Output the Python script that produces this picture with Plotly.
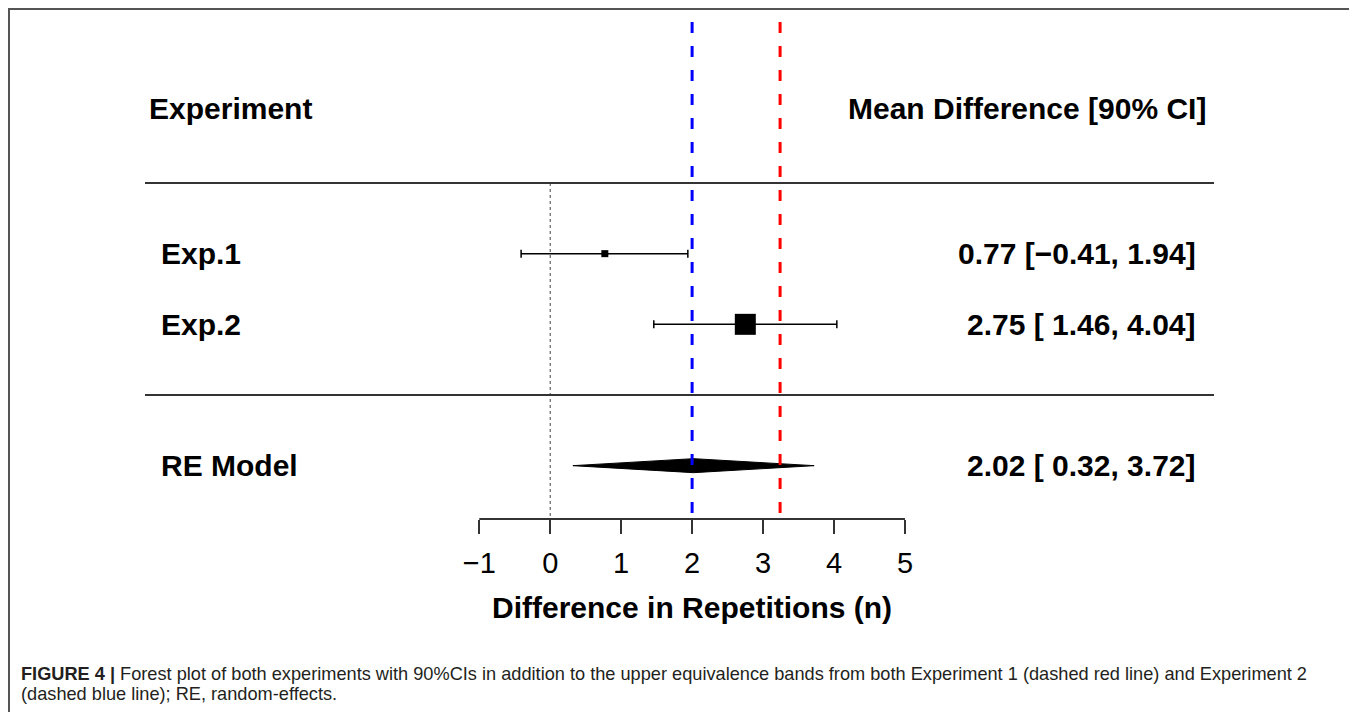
import plotly.graph_objects as go

# ---- data ----
studies = ["Exp.1", "Exp.2"]
estimates = [0.77, 2.75]
ci_lower = [-0.41, 1.46]
ci_upper = [1.94, 4.04]
marker_sizes = [7, 21]
re_label = "RE Model"
re_estimate = 2.02
re_lower = 0.32
re_upper = 3.72
equiv_exp1 = 3.24   # red dashed
equiv_exp2 = 2.00   # blue dashed
tick_vals = [-1, 0, 1, 2, 3, 4, 5]
x_title = "Difference in Repetitions (n)"
left_header = "Experiment"
right_header = "Mean Difference [90% CI]"
caption_line1 = ("<b>FIGURE 4 |</b> Forest plot of both experiments with 90%CIs in addition to the upper "
                 "equivalence bands from both Experiment 1 (dashed red line) and Experiment 2")
caption_line2 = "(dashed blue line); RE, random-effects."

W, H = 1357, 712
OFF = 8          # page body margin offset
AXIS_PX = 519    # page pixel of the axis line
BOTTOM = H - (AXIS_PX - OFF)
FONT = "Liberation Sans, Arial, sans-serif"

# pixel mapping (page pixels -> figure pixels via OFF)
px_per_x = 70.95
x0_px = 550.2 - OFF
x_range = [-x0_px / px_per_x, (W - x0_px) / px_per_x]
px_per_y = 70.67
y0_px = 395.0 - OFF
plot_h = H - BOTTOM
y_range = [(y0_px - plot_h) / px_per_y, y0_px / px_per_y]


def xd(px):
    return (px - OFF - x0_px) / px_per_x


def yd(px):
    return (y0_px - (px - OFF)) / px_per_y


def ypaper(px):
    return (plot_h - (px - OFF)) / plot_h


rows = [2, 1]
re_row = -1

fig = go.Figure()

# study estimates with CIs
fig.add_trace(go.Scatter(
    x=estimates, y=rows, mode="markers",
    marker=dict(symbol="square", size=marker_sizes, color="black", opacity=1, line=dict(width=0)),
    error_x=dict(type="data", symmetric=False,
                 array=[u - e for u, e in zip(ci_upper, estimates)],
                 arrayminus=[e - l for e, l in zip(estimates, ci_lower)],
                 color="black", thickness=1.5, width=4),
    showlegend=False, hoverinfo="skip", cliponaxis=False,
))

# RE diamond
dh = 7 / px_per_y
fig.add_trace(go.Scatter(
    x=[re_lower, re_estimate, re_upper, re_estimate, re_lower],
    y=[re_row, re_row + dh, re_row, re_row - dh, re_row],
    mode="lines", fill="toself", fillcolor="black",
    line=dict(color="black", width=1), showlegend=False, hoverinfo="skip",
))

shapes = []
# zero dotted line
shapes.append(dict(type="line", xref="x", yref="y", x0=0, x1=0, y0=3, y1=y_range[0],
                   line=dict(color="#444", width=1, dash="dot"), layer="below"))
# horizontal separators
for yy in [3, 0]:
    shapes.append(dict(type="line", xref="x", yref="y", x0=xd(145), x1=xd(1214), y0=yy, y1=yy,
                       line=dict(color="#333", width=2)))
# axis baseline
shapes.append(dict(type="line", xref="x", yref="paper", x0=tick_vals[0], x1=tick_vals[-1], y0=0, y1=0,
                   line=dict(color="#333", width=2)))
# equivalence bands
for xv, col in [(equiv_exp2, "#0000ff"), (equiv_exp1, "#ff0000")]:
    shapes.append(dict(type="line", xref="x", yref="y", x0=xv, x1=xv, y0=yd(22), y1=y_range[0],
                       line=dict(color=col, width=3, dash="11px,13px")))
# frame
shapes.append(dict(type="rect", xref="paper", yref="paper", x0=(9 - OFF) / W, x1=(1355 - OFF) / W,
                   y0=ypaper(800), y1=ypaper(9), line=dict(color="#555", width=2)))

annotations = []
bold = dict(family=FONT, size=30, color="black")
annotations.append(dict(x=xd(147), y=yd(108), xref="x", yref="y", text=f"<b>{left_header}</b>",
                        xanchor="left", yanchor="middle", showarrow=False, font=bold))
annotations.append(dict(x=xd(1208), y=yd(108), xref="x", yref="y", text=f"<b>{right_header}</b>",
                        xanchor="right", yanchor="middle", showarrow=False, font=bold))


def fmt(e, l, u):
    s = f"{e:.2f} [{l:5.2f}, {u:.2f}]"
    return s.replace("-", "\u2212")


for name, r, e, l, u in zip(studies, rows, estimates, ci_lower, ci_upper):
    annotations.append(dict(x=xd(159), y=r, xref="x", yref="y", text=f"<b>{name}</b>",
                            xanchor="left", yanchor="middle", showarrow=False, font=bold))
    annotations.append(dict(x=xd(1198), y=r, xref="x", yref="y", text=f"<b>{fmt(e, l, u)}</b>",
                            xanchor="right", yanchor="middle", showarrow=False, font=bold))
annotations.append(dict(x=xd(159), y=re_row, xref="x", yref="y", text=f"<b>{re_label}</b>",
                        xanchor="left", yanchor="middle", showarrow=False, font=bold))
annotations.append(dict(x=xd(1198), y=re_row, xref="x", yref="y",
                        text=f"<b>{fmt(re_estimate, re_lower, re_upper)}</b>",
                        xanchor="right", yanchor="middle", showarrow=False, font=bold))
# axis title
annotations.append(dict(x=2, y=ypaper(607), xref="x", yref="paper", text=f"<b>{x_title}</b>",
                        xanchor="center", yanchor="middle", showarrow=False, font=bold))
# caption
cap_font = dict(family=FONT, size=18.2, color="#231f20")
for txt, ypx in [(caption_line1, 674), (caption_line2, 694)]:
    annotations.append(dict(x=(19 - OFF) / W, y=ypaper(ypx), xref="paper", yref="paper", text=txt,
                            xanchor="left", yanchor="middle", align="left", showarrow=False,
                            font=cap_font))

fig.update_layout(
    width=W, height=H,
    margin=dict(l=0, r=0, t=0, b=BOTTOM, pad=0),
    paper_bgcolor="white", plot_bgcolor="white",
    showlegend=False,
    shapes=shapes, annotations=annotations,
    xaxis=dict(range=x_range, tickmode="array", tickvals=tick_vals, showgrid=False, zeroline=False,
               showline=False, ticks="outside", ticklen=14, tickwidth=2, tickcolor="#333",
               ticklabelstandoff=4,
               tickfont=dict(family=FONT, size=29, color="black"), fixedrange=True),
    yaxis=dict(range=y_range, visible=False, showgrid=False, zeroline=False, fixedrange=True),
)

fig.write_html("out.html")
